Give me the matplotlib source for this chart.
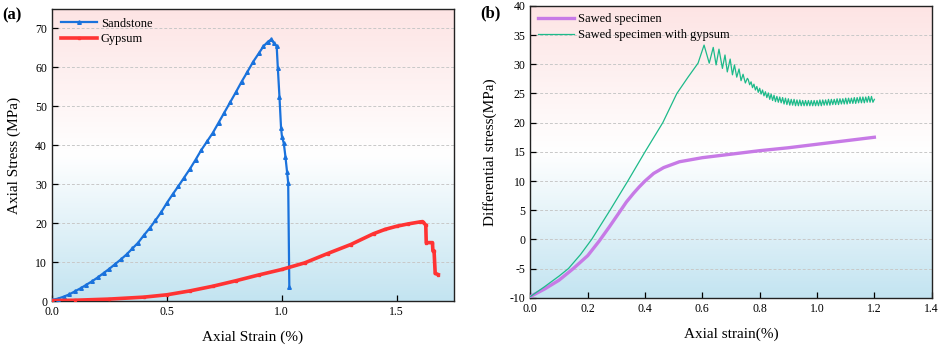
#!/usr/bin/python3

import matplotlib
matplotlib.use('Agg')
import matplotlib.pyplot as plt
from matplotlib.colors import LinearSegmentedColormap
import numpy as np

# ---- panel (a): uniaxial tests ----
sand_strain = [0.0, 0.025, 0.05, 0.075, 0.1, 0.125, 0.15, 0.175, 0.2, 0.225, 0.25, 0.275,
               0.3, 0.325, 0.35, 0.375, 0.4, 0.425, 0.45, 0.475, 0.5, 0.525, 0.55, 0.575,
               0.6, 0.625, 0.65, 0.675, 0.7, 0.725, 0.75, 0.775, 0.8, 0.825, 0.85, 0.875,
               0.9, 0.92, 0.94, 0.955,
               0.965, 0.978, 0.983, 0.99, 0.997, 1.001, 1.009, 1.016, 1.023, 1.028, 1.033]
sand_stress = [0.3, 0.6, 1.1, 1.7, 2.5, 3.3, 4.2, 5.1, 6.1, 7.2, 8.3, 9.5,
               10.7, 12.0, 13.5, 15.0, 16.9, 18.7, 20.7, 22.8, 25.2, 27.4, 29.5, 31.7,
               33.9, 36.3, 38.8, 41.0, 43.2, 45.8, 48.4, 51.0, 53.6, 56.3, 58.8, 61.4,
               63.6, 65.4, 66.6, 67.2,
               66.3, 65.4, 59.8, 52.5, 44.4, 42.2, 40.5, 37.1, 33.2, 30.4, 3.5]

gyp_strain = [0.0, 0.1, 0.25, 0.4, 0.5, 0.6, 0.7, 0.8, 0.9, 1.0, 1.1, 1.2, 1.3, 1.4,
              1.45, 1.5, 1.55, 1.6, 1.613, 1.627, 1.629, 1.656, 1.658, 1.663, 1.668, 1.681]
gyp_stress = [0.1, 0.2, 0.5, 1.0, 1.6, 2.6, 3.8, 5.2, 6.7, 8.1, 9.8, 12.2, 14.5, 17.3,
              18.4, 19.2, 19.8, 20.3, 20.4, 19.5, 15.0, 15.0, 12.9, 12.9, 7.1, 6.8]

# ---- panel (b): sawed specimens ----
sawed_strain = [0.0, 0.05, 0.1, 0.15, 0.2, 0.24, 0.275, 0.31, 0.335, 0.36, 0.38, 0.40,
                0.43, 0.465, 0.52, 0.6, 0.7, 0.8, 0.9, 1.0, 1.1, 1.2]
sawed_stress = [-9.8, -8.5, -7.0, -5.0, -2.8, -0.3, 2.1, 4.6, 6.4, 7.9, 9.0, 10.0,
                11.3, 12.3, 13.3, 14.0, 14.6, 15.2, 15.7, 16.3, 16.9, 17.5]

# pre-peak rise and stick-slip teeth
gyp_saw_strain = [0.0, 0.05, 0.1, 0.133, 0.175, 0.214, 0.278, 0.34, 0.40, 0.462, 0.511,
                  0.55, 0.585, 0.606, 0.624, 0.638, 0.648, 0.658, 0.670, 0.679, 0.687,
                  0.697, 0.705, 0.712, 0.72, 0.728, 0.735, 0.742, 0.75, 0.757]
gyp_saw_stress = [-9.8, -8.1, -6.3, -5.0, -2.6, 0.0, 5.0, 10.0, 15.0, 20.0, 25.0,
                  27.8, 30.2, 33.3, 30.2, 32.9, 29.9, 32.6, 29.3, 31.6, 28.7,
                  30.9, 28.2, 29.9, 27.8, 29.2, 27.2, 28.3, 26.8, 27.6]
# residual noisy band, 0.76 .. 1.20 every 0.005
band_strain = [round(0.76 + 0.005 * i, 3) for i in range(89)]
band_stress = [27.4, 26.5, 27.0, 26.0, 26.6, 25.6, 26.2, 25.2, 25.9, 24.9,
               25.6, 24.6, 25.3, 24.3, 25.1, 24.0, 24.9, 23.8, 24.7, 23.6,
               24.5, 23.5, 24.4, 23.4, 24.3, 23.2, 24.2, 23.1, 24.1, 23.0,
               24.0, 23.0, 24.0, 22.9, 23.9, 22.9, 23.9, 22.9, 23.8, 22.9,
               23.8, 22.9, 23.8, 22.9, 23.8, 22.9, 23.8, 22.9, 23.8, 22.9,
               23.9, 22.9, 23.9, 23.0, 23.9, 23.0, 24.0, 23.0, 24.0, 23.1,
               24.0, 23.1, 24.1, 23.1, 24.1, 23.2, 24.1, 23.2, 24.2, 23.2,
               24.2, 23.3, 24.2, 23.3, 24.3, 23.3, 24.3, 23.4, 24.4, 23.4,
               24.4, 23.4, 24.4, 23.5, 24.5, 23.5, 24.5, 23.5, 24.0]

bg_cmap = LinearSegmentedColormap.from_list('bg', ['#c3e4f1', '#ffffff', '#fde4e4'])


def dress_axes(ax):
    grad = np.linspace(0, 1, 256).reshape(-1, 1)
    ax.imshow(grad, cmap=bg_cmap, origin='lower', aspect='auto',
              extent=[0, 1, 0, 1], transform=ax.transAxes, zorder=0)
    ax.grid(True, axis='y', linestyle=(0, (3, 2)), color='#c8c8c8', linewidth=0.7, zorder=1)
    ax.tick_params(direction='in', length=4, width=0.9, labelsize=8.5, top=False, right=False)
    for sp in ax.spines.values():
        sp.set_linewidth(1.0)
        sp.set_color('#222222')


def main():
    plt.rcParams['font.family'] = ['Liberation Serif', 'DejaVu Serif']
    plt.rcParams['axes.unicode_minus'] = False
    fig = plt.figure(figsize=(9.41, 3.46), dpi=100)

    ax1 = fig.add_axes([0.0553, 0.130, 0.4272, 0.844])
    dress_axes(ax1)
    ax1.plot(sand_strain, sand_stress, color='#1a72dc', linewidth=1.6, marker='^',
             markersize=2.6, label='Sandstone', zorder=3)
    ax1.plot(gyp_strain, gyp_stress, color='#ff3333', linewidth=2.6, marker='s',
             markersize=2.0, label='Gypsum', zorder=3)
    ax1.set_xlim(0, 1.75)
    ax1.set_ylim(0, 75)
    ax1.set_xticks([0.0, 0.5, 1.0, 1.5])
    ax1.set_yticks(range(0, 71, 10))
    ax1.set_xlabel('Axial Strain (%)', fontsize=11, labelpad=9)
    ax1.set_ylabel('Axial Stress (MPa)', fontsize=11, labelpad=10)
    ax1.legend(loc='upper left', frameon=False, fontsize=9, handlelength=2.9,
               handletextpad=0.3, borderaxespad=0.3, labelspacing=0.3)

    ax2 = fig.add_axes([0.5636, 0.1396, 0.4265, 0.8431])
    dress_axes(ax2)
    ax2.plot(sawed_strain, sawed_stress, color='#c77ae6', linewidth=2.4,
             label='Sawed specimen', zorder=3)
    ax2.plot(gyp_saw_strain + band_strain, gyp_saw_stress + band_stress, color='#1dba8a',
             linewidth=0.9, label='Sawed specimen with gypsum', zorder=3)
    ax2.set_xlim(0, 1.4)
    ax2.set_ylim(-10, 40)
    ax2.set_xticks(np.arange(0, 1.41, 0.2))
    ax2.set_yticks(range(-10, 41, 5))
    ax2.set_xlabel('Axial strain(%)', fontsize=11, labelpad=9)
    ax2.set_ylabel('Differential stress(MPa)', fontsize=11, labelpad=9)
    ax2.legend(loc='upper left', frameon=False, fontsize=9, handlelength=2.9,
               handletextpad=0.3, borderaxespad=0.2, labelspacing=0.3)

    fig.text(0.002, 0.955, '(a)', fontsize=12, fontweight='bold', va='center')
    fig.text(0.510, 0.960, '(b)', fontsize=12, fontweight='bold', va='center')

    fig.savefig('out.png', dpi=100)


if __name__ == '__main__':
    main()
